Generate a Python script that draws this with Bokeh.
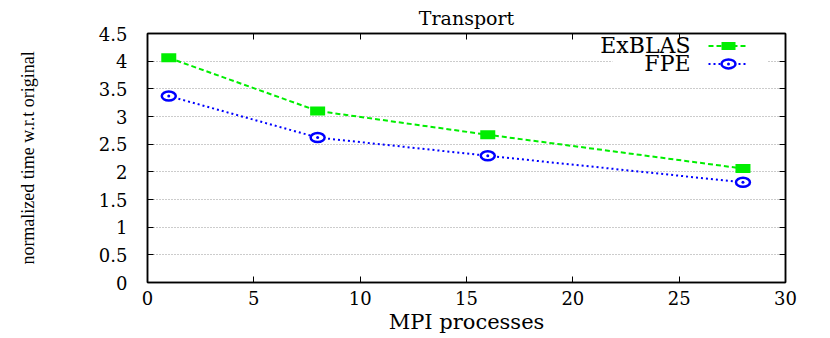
from bokeh.plotting import figure
from bokeh.models import Range1d, LinearAxis, FixedTicker
from bokeh.core.properties import value
from bokeh.embed import file_html
from bokeh.resources import INLINE

# ---- data ----
processes = [1, 8, 16, 28]
exblas = [4.06, 3.10, 2.67, 2.06]
fpe = [3.37, 2.62, 2.29, 1.81]
series_names = ["ExBLAS", "FPE"]
x_ticks = [0, 5, 10, 15, 20, 25, 30]
x_tick_labels = ["0", "5", "10", "15", "20", "25", "30"]
y_ticks = [0, 0.5, 1, 1.5, 2, 2.5, 3, 3.5, 4, 4.5]
y_tick_labels = ["0", "0.5", "1", "1.5", "2", "2.5", "3", "3.5", "4", "4.5"]
title_text = "Transport"
x_title = "MPI processes"
y_title = "normalized time w.r.t original"

# ---- style / layout ----
GREEN = "#00ee00"
BLUE = "#0000ff"
SERIF = "DejaVu Serif"
FL, FT, FW, FH = 147, 32, 638, 250
BR, BB = 45, 56

p = figure(width=FL + FW + BR, height=FT + FH + BB,
           x_range=Range1d(0, 30), y_range=Range1d(0, 4.5),
           output_backend="svg", toolbar_location=None, title=title_text,
           min_border_left=FL, min_border_top=FT,
           min_border_right=BR, min_border_bottom=BB)
p.background_fill_color = "white"
p.border_fill_color = "white"
p.outline_line_color = "black"
p.outline_line_width = 1.5

p.title.align = "center"
p.title.text_font = SERIF
p.title.text_font_size = "19px"
p.title.text_font_style = "normal"
p.title.text_color = "black"
p.title.standoff = 9

xt = FixedTicker(ticks=x_ticks)
yt = FixedTicker(ticks=y_ticks)

xa = p.below[0]
ya = p.left[0]
for ax, tk, labs in ((xa, xt, x_tick_labels), (ya, yt, y_tick_labels)):
    ax.ticker = tk
    ax.major_label_overrides = {t: l for t, l in zip(tk.ticks, labs)}
    ax.major_tick_in = 6
    ax.major_tick_out = 0
    ax.minor_tick_in = 0
    ax.minor_tick_out = 0
    ax.axis_line_color = "black"
    ax.axis_line_width = 1.5
    ax.major_tick_line_color = "black"
    ax.major_tick_line_width = 1
    ax.major_label_text_font = SERIF
    ax.major_label_text_font_size = "18px"
    ax.major_label_text_color = "black"
    ax.axis_label_text_font_style = "normal"
    ax.axis_label_text_color = "black"

xa.major_label_standoff = 8
xa.axis_label = x_title
xa.axis_label_text_font = SERIF
xa.axis_label_text_font_size = "21px"
xa.axis_label_standoff = 2

ya.major_label_standoff = 20
ya.axis_label = y_title
ya.axis_label_text_font = "Liberation Serif"
ya.axis_label_text_font_size = "18px"
ya.axis_label_standoff = 58

# mirror ticks (top / right)
for side, tk in (("above", xt), ("right", yt)):
    ax = LinearAxis(ticker=tk)
    ax.major_label_overrides = {t: "" for t in tk.ticks}
    ax.major_label_text_font_size = "1px"
    ax.major_label_standoff = 0
    ax.major_tick_in = 6
    ax.major_tick_out = 0
    ax.minor_tick_in = 0
    ax.minor_tick_out = 0
    ax.axis_line_color = "black"
    ax.axis_line_width = 1.5
    ax.major_tick_line_color = "black"
    p.add_layout(ax, side)

p.xgrid.visible = False
p.ygrid.ticker = yt
p.ygrid.grid_line_color = "#999999"
p.ygrid.grid_line_dash = "1 2"
p.ygrid.grid_line_width = 1

# ---- data series ----
p.line(processes, exblas, line_color=GREEN, line_width=2, line_dash="5 3")
p.line(processes, fpe, line_color=BLUE, line_width=2, line_dash="2 3")
p.rect(processes, exblas, width=15, height=9, width_units="screen", height_units="screen",
       fill_color=GREEN, line_color=None)
p.ellipse(processes, fpe, width=14, height=9, width_units="screen", height_units="screen",
          fill_color="white", line_color=BLUE, line_width=2.5)
p.scatter(processes, fpe, size=3, marker="circle", fill_color=BLUE, line_color=None)

# ---- key (pixel ranges inside the frame) ----
p.extra_x_ranges = {"px": Range1d(0, FW)}
p.extra_y_ranges = {"py": Range1d(0, FH)}
KEY_BOX = (465, 620, 3, 39)          # left, right, top, bottom (px from frame top-left)
KEY_TEXT_X = 543
KEY_LINE = (561, 601)
KEY_MARK_X = 581
KEY_ROWS = [12.5, 30.5]
rows = [FH - r for r in KEY_ROWS]

p.quad(left=[KEY_BOX[0]], right=[KEY_BOX[1]], top=[FH - KEY_BOX[2]], bottom=[FH - KEY_BOX[3]],
       x_range_name="px", y_range_name="py", fill_color="white", line_color=None)
p.text(x=[KEY_TEXT_X] * 2, y=rows, text=series_names, x_range_name="px", y_range_name="py",
       text_align="right", text_baseline="middle", text_font=value(SERIF),
       text_font_size="22px", text_color="black")
p.segment(x0=[KEY_LINE[0]], x1=[KEY_LINE[1]], y0=[rows[0]], y1=[rows[0]],
          x_range_name="px", y_range_name="py", line_color=GREEN, line_width=2, line_dash="5 3")
p.segment(x0=[KEY_LINE[0]], x1=[KEY_LINE[1]], y0=[rows[1]], y1=[rows[1]],
          x_range_name="px", y_range_name="py", line_color=BLUE, line_width=2, line_dash="2 3")
p.rect([KEY_MARK_X], [rows[0]], width=14, height=8, width_units="screen", height_units="screen",
       x_range_name="px", y_range_name="py", fill_color=GREEN, line_color=None)
p.ellipse([KEY_MARK_X], [rows[1]], width=14, height=9, width_units="screen", height_units="screen",
          x_range_name="px", y_range_name="py", fill_color="white", line_color=BLUE, line_width=2.5)
p.scatter([KEY_MARK_X], [rows[1]], size=3, marker="circle", x_range_name="px", y_range_name="py",
          fill_color=BLUE, line_color=None)

open("out.html", "w").write(file_html(p, INLINE))
